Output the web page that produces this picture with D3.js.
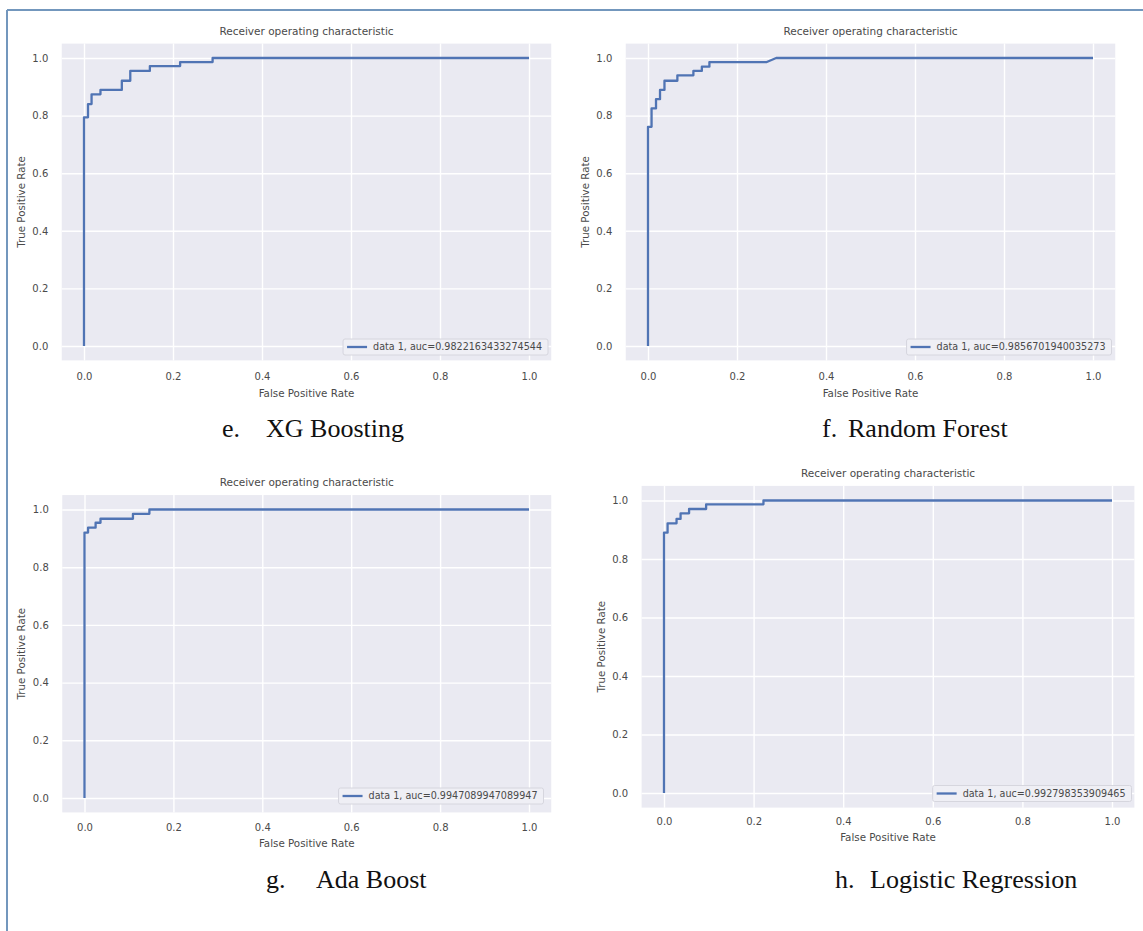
<!DOCTYPE html>
<html>
<head>
<meta charset="utf-8">
<script src="https://cdn.jsdelivr.net/npm/d3@7"></script>
<style>
  html, body { margin: 0; padding: 0; background: #fff; }
  svg { display: block; }
</style>
</head>
<body>
<svg id="chart" width="1143" height="931"></svg>
<script>
// ---------- DATA ----------
const tickValues = [0, 0.2, 0.4, 0.6, 0.8, 1.0];
const xTickLabels = ["0.0", "0.2", "0.4", "0.6", "0.8", "1.0"];
const yTickLabels = ["0.0", "0.2", "0.4", "0.6", "0.8", "1.0"];

const chartTitle = "Receiver operating characteristic";
const xAxisLabel = "False Positive Rate";
const yAxisLabel = "True Positive Rate";

const xgFpr = [0, 0, 0.009, 0.009, 0.017, 0.017, 0.037, 0.037, 0.085, 0.085, 0.104, 0.104, 0.148, 0.148, 0.216, 0.216, 0.289, 0.289, 1.0];
const xgTpr = [0, 0.794, 0.794, 0.84, 0.84, 0.874, 0.874, 0.889, 0.889, 0.921, 0.921, 0.955, 0.955, 0.972, 0.972, 0.986, 0.986, 1.0, 1.0];
const xgLegend = "data 1, auc=0.9822163433274544";

const rfFpr = [0, 0, 0.008, 0.008, 0.018, 0.018, 0.027, 0.027, 0.037, 0.037, 0.066, 0.066, 0.102, 0.102, 0.121, 0.121, 0.138, 0.138, 0.267, 0.288, 1.0];
const rfTpr = [0, 0.761, 0.761, 0.825, 0.825, 0.857, 0.857, 0.889, 0.889, 0.921, 0.921, 0.94, 0.94, 0.955, 0.955, 0.97, 0.97, 0.986, 0.986, 1.0, 1.0];
const rfLegend = "data 1, auc=0.9856701940035273";

const adaFpr = [0, 0, 0.008, 0.008, 0.025, 0.025, 0.036, 0.036, 0.109, 0.109, 0.146, 0.146, 1.0];
const adaTpr = [0, 0.92, 0.92, 0.937, 0.937, 0.954, 0.954, 0.968, 0.968, 0.985, 0.985, 1.0, 1.0];
const adaLegend = "data 1, auc=0.9947089947089947";

const lrFpr = [0, 0, 0.008, 0.008, 0.028, 0.028, 0.037, 0.037, 0.056, 0.056, 0.094, 0.094, 0.222, 0.222, 1.0];
const lrTpr = [0, 0.89, 0.89, 0.922, 0.922, 0.937, 0.937, 0.956, 0.956, 0.971, 0.971, 0.987, 0.987, 1.0, 1.0];
const lrLegend = "data 1, auc=0.992798353909465";

const captionLetters = ["e.", "f.", "g.", "h."];
const captionNames = ["XG Boosting", "Random Forest", "Ada Boost", "Logistic Regression"];

// ---------- LAYOUT ----------
const panels = [
  { fpr: xgFpr, tpr: xgTpr, legend: xgLegend, x0: 84, x1: 529, yHi: 58, yLo: 346,
    tickDy: 19.5, labelDy: 33, legRight: 548, legBottom: 355,
    capY: 437, capLetterX: 222, capNameX: 266 },
  { fpr: rfFpr, tpr: rfTpr, legend: rfLegend, x0: 648, x1: 1093, yHi: 58, yLo: 346,
    tickDy: 19.5, labelDy: 33, legRight: 1111.5, legBottom: 355,
    capY: 437, capLetterX: 822, capNameX: 848 },
  { fpr: adaFpr, tpr: adaTpr, legend: adaLegend, x0: 84.5, x1: 529, yHi: 509.5, yLo: 798,
    tickDy: 18, labelDy: 31, legRight: 543.5, legBottom: 804,
    capY: 888, capLetterX: 266, capNameX: 316 },
  { fpr: lrFpr, tpr: lrTpr, legend: lrLegend, x0: 664, x1: 1112, yHi: 500.5, yLo: 793,
    tickDy: 16.5, labelDy: 30, legRight: 1131.5, legBottom: 801.5,
    capY: 888, capLetterX: 835, capNameX: 870 }
];

const svg = d3.select("#chart");
const FONT = "DejaVu Sans, sans-serif";
const TEXT = "#4a4a4a";

// page border (left + top)
svg.append("line").attr("x1", 7).attr("y1", 10).attr("x2", 1143).attr("y2", 10)
  .attr("stroke", "#7397bd").attr("stroke-width", 2);
svg.append("line").attr("x1", 7).attr("y1", 10).attr("x2", 7).attr("y2", 931)
  .attr("stroke", "#7397bd").attr("stroke-width", 2);

panels.forEach((p, i) => {
  const x = d3.scaleLinear().domain([0, 1]).range([p.x0, p.x1]);
  const y = d3.scaleLinear().domain([0, 1]).range([p.yLo, p.yHi]);
  const left = x(-0.05), right = x(1.05), top = y(1.05), bottom = y(-0.05);
  const g = svg.append("g");

  g.append("rect").attr("x", left).attr("y", top)
    .attr("width", right - left).attr("height", bottom - top).attr("fill", "#eaeaf2");

  // grid
  const gx = g.append("g").attr("transform", `translate(0,${bottom})`)
    .call(d3.axisBottom(x).tickValues(tickValues).tickSize(-(bottom - top)).tickFormat(""));
  gx.select(".domain").remove();
  gx.selectAll("line").attr("stroke", "#ffffff").attr("stroke-width", 1.4);
  const gy = g.append("g").attr("transform", `translate(${left},0)`)
    .call(d3.axisLeft(y).tickValues(tickValues).tickSize(-(right - left)).tickFormat(""));
  gy.select(".domain").remove();
  gy.selectAll("line").attr("stroke", "#ffffff").attr("stroke-width", 1.4);

  // tick labels
  const ax = g.append("g").attr("transform", `translate(0,${bottom})`)
    .call(d3.axisBottom(x).tickValues(tickValues).tickSize(0).tickPadding(p.tickDy - 6.5)
      .tickFormat((d, k) => xTickLabels[k]));
  ax.select(".domain").remove();
  ax.selectAll("text").attr("font-family", FONT).attr("font-size", 10).attr("fill", TEXT);
  const ay = g.append("g").attr("transform", `translate(${left},0)`)
    .call(d3.axisLeft(y).tickValues(tickValues).tickSize(0).tickPadding(13.5)
      .tickFormat((d, k) => yTickLabels[k]));
  ay.select(".domain").remove();
  ay.selectAll("text").attr("font-family", FONT).attr("font-size", 10).attr("fill", TEXT);

  // title & labels
  const cx = (p.x0 + p.x1) / 2;
  g.append("text").attr("x", cx).attr("y", top - 9).attr("text-anchor", "middle")
    .attr("font-family", FONT).attr("font-size", 10.5).attr("fill", TEXT).text(chartTitle);
  g.append("text").attr("x", cx).attr("y", bottom + p.labelDy + 3.8).attr("text-anchor", "middle")
    .attr("font-family", FONT).attr("font-size", 10.3).attr("fill", TEXT).text(xAxisLabel);
  const cy = (p.yHi + p.yLo) / 2;
  g.append("text").attr("transform", `translate(${left - 37},${cy}) rotate(-90)`)
    .attr("text-anchor", "middle").attr("font-family", FONT).attr("font-size", 10.3)
    .attr("fill", TEXT).text(yAxisLabel);

  // curve
  const line = d3.line().x(d => x(d[0])).y(d => y(d[1]));
  g.append("path").datum(d3.zip(p.fpr, p.tpr)).attr("d", line)
    .attr("fill", "none").attr("stroke", "#5074b4").attr("stroke-width", 2.3)
    .attr("stroke-linejoin", "round");

  // legend
  const leg = g.append("g");
  const box = leg.append("rect");
  const lt = leg.append("text").attr("font-family", FONT).attr("font-size", 9.6)
    .attr("fill", TEXT).text(p.legend);
  const tw = lt.node().getComputedTextLength();
  const lw = tw + 36, lh = 16;
  const lx = p.legRight - lw, ly = p.legBottom - lh;
  box.attr("x", lx).attr("y", ly).attr("width", lw).attr("height", lh).attr("rx", 2)
    .attr("fill", "#efeff5").attr("stroke", "#d6d6de").attr("stroke-width", 1);
  leg.append("line").attr("x1", lx + 4).attr("x2", lx + 24).attr("y1", ly + lh / 2).attr("y2", ly + lh / 2)
    .attr("stroke", "#5074b4").attr("stroke-width", 2.3);
  lt.attr("x", lx + 30).attr("y", ly + lh / 2 + 3.4);

  // caption
  svg.append("text").attr("x", p.capLetterX).attr("y", p.capY)
    .attr("font-family", "Liberation Serif, Times New Roman, serif").attr("font-size", 26)
    .attr("fill", "#111").text(captionLetters[i]);
  svg.append("text").attr("x", p.capNameX).attr("y", p.capY)
    .attr("font-family", "Liberation Serif, Times New Roman, serif").attr("font-size", 26)
    .attr("fill", "#111").text(captionNames[i]);
});
</script>
</body>
</html>
